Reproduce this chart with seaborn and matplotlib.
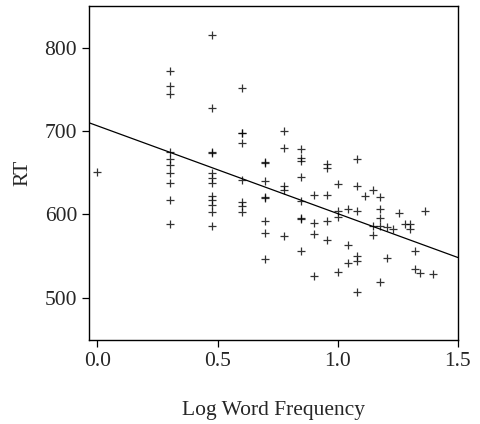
import numpy as np
import pandas as pd
import matplotlib
matplotlib.use("Agg")
import matplotlib.pyplot as plt
import seaborn as sns

# word frequency (raw counts) -> log10 on x axis, one group of RTs per count
freq_counts = [1, 2, 3, 4, 5, 6, 7, 8, 9, 10, 11, 12, 13, 14, 15, 16, 17, 18, 19, 20, 21, 22, 23, 25]
rt_groups = [
    [651],
    [772, 754, 744, 675, 666, 659, 650, 637, 617, 588],
    [815, 728, 675, 674, 649, 643, 638, 622, 617, 611, 603, 586],
    [751, 698, 697, 685, 641, 615, 610, 603],
    [663, 661, 640, 621, 619, 592, 578, 546],
    [700, 680, 634, 629, 574],
    [678, 667, 664, 645, 616, 596, 594, 556],
    [623, 590, 576, 526],
    [660, 656, 623, 592, 569],
    [636, 604, 597, 531],
    [606, 563, 542],
    [666, 634, 604, 550, 544, 507],
    [622],
    [629, 586, 575],
    [621, 606, 595, 586, 519],
    [585, 547],
    [582],
    [601],
    [588],
    [588, 582],
    [556, 534],
    [530],
    [604],
    [528],
]

rows = []
for f, rts in zip(freq_counts, rt_groups):
    for rt in rts:
        rows.append({"logfreq": np.log10(f), "RT": rt})
df = pd.DataFrame(rows)

sns.set_style("ticks")
plt.rcParams["font.family"] = ["Liberation Serif", "DejaVu Serif"]

fig = plt.figure(figsize=(4.81, 4.24), dpi=100)
ax = fig.add_axes([0.185, 0.198, 0.767, 0.788])
ax.set_xlim(-0.035, 1.5)
ax.set_ylim(449, 850)

sns.regplot(data=df, x="logfreq", y="RT", ax=ax, ci=None, truncate=False,
            marker="+", color="black",
            scatter_kws={"s": 40, "linewidths": 0.9},
            line_kws={"linewidth": 0.9})

ax.set_xticks([0.0, 0.5, 1.0, 1.5])
ax.set_xticklabels(["0.0", "0.5", "1.0", "1.5"])
ax.set_yticks([500, 600, 700, 800])
ax.tick_params(labelsize=15.5, length=5, width=0.9, color="black", direction="out")
ax.set_xlabel("Log Word Frequency", fontsize=15.5, labelpad=22)
ax.set_ylabel("RT", fontsize=15.5, labelpad=9)
for s in ax.spines.values():
    s.set_visible(True)
    s.set_linewidth(1.0)
    s.set_color("black")

plt.savefig("out.png", dpi=100)
